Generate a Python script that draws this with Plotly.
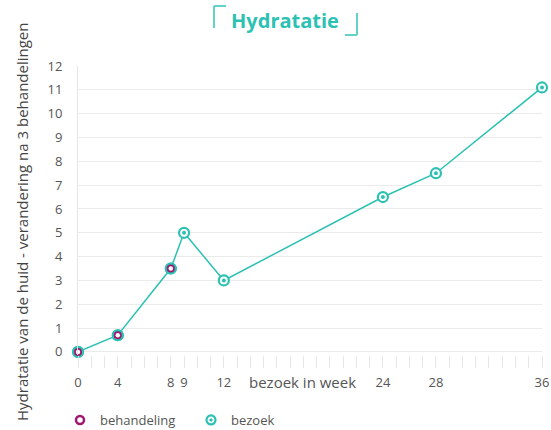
import plotly.graph_objects as go

# ---- data ----
weeks = [0, 4, 8, 9, 12, 24, 28, 36]
values = [0.0, 0.7, 3.5, 5.0, 3.0, 6.5, 7.5, 11.1]
treatment_weeks = [0, 4, 8]
treatment_values = [0.0, 0.7, 3.5]
tick_weeks = [0, 4, 8, 9, 12, 24, 28, 36]
tick_labels = ["0", "4", "8", "9", "12", "24", "28", "36"]
y_ticks = list(range(0, 13))

TEAL = "#2cc1b3"
MAGENTA = "#a3166f"
GRAY = "#555555"
FONT = "Open Sans"


def pos(w):
    # the chart places week 0 at the start of the axis (position 1)
    return max(w, 1)


x_all = [pos(w) for w in weeks]
x_treat = [pos(w) for w in treatment_weeks]

fig = go.Figure()
# connecting line
fig.add_trace(go.Scatter(
    x=x_all, y=values, mode="lines", showlegend=False, hoverinfo="skip",
    line=dict(color=TEAL, width=1.5), cliponaxis=False,
))
# visit markers (ring + centre dot)
fig.add_trace(go.Scatter(
    x=x_all, y=values, mode="markers", name="bezoek", showlegend=False,
    marker=dict(symbol="circle", size=10, color="white",
                line=dict(color=TEAL, width=2.2)),
    cliponaxis=False,
))
fig.add_trace(go.Scatter(
    x=x_all, y=values, mode="markers", showlegend=False, hoverinfo="skip",
    marker=dict(symbol="circle", size=4, color=TEAL, line=dict(width=0)),
    cliponaxis=False,
))
# treatment markers (magenta ring over the visit ring)
fig.add_trace(go.Scatter(
    x=x_treat, y=treatment_values, mode="markers", name="behandeling", showlegend=False,
    marker=dict(symbol="circle", size=10, color=MAGENTA,
                line=dict(color=TEAL, width=2)),
    cliponaxis=False,
))
fig.add_trace(go.Scatter(
    x=x_treat, y=treatment_values, mode="markers", showlegend=False, hoverinfo="skip",
    marker=dict(symbol="circle", size=4.5, color="white", line=dict(width=0)),
    cliponaxis=False,
))
# legend entries (no data drawn)
fig.add_trace(go.Scatter(
    x=[None], y=[None], mode="markers", name="behandeling",
    marker=dict(symbol="circle", size=8, color="white", line=dict(color=MAGENTA, width=2.5)),
    legendrank=1,
))
fig.add_trace(go.Scatter(
    x=[None], y=[None], mode="markers", name="bezoek",
    marker=dict(symbol="circle-dot", size=9, color="white", line=dict(color=TEAL, width=2.2)),
    legendrank=2,
))

W, H = 551, 430
L, R, T, B = 78, 9, 66, 75
pw, ph = W - L - R, H - T - B


def px(xp):
    return (xp - L) / pw


def py(yp):
    return (H - B - yp) / ph


bracket = dict(color="#63d2c7", width=2)
shapes = [
    dict(type="line", xref="paper", yref="paper", x0=px(214), x1=px(214), y0=py(6), y1=py(28), line=bracket),
    dict(type="line", xref="paper", yref="paper", x0=px(214), x1=px(226), y0=py(6), y1=py(6), line=bracket),
    dict(type="line", xref="paper", yref="paper", x0=px(357), x1=px(357), y0=py(13), y1=py(35), line=bracket),
    dict(type="line", xref="paper", yref="paper", x0=px(345), x1=px(357), y0=py(35), y1=py(35), line=bracket),
]

fig.update_layout(
    width=W, height=H,
    margin=dict(l=L, r=R, t=T, b=B, autoexpand=False),
    paper_bgcolor="white", plot_bgcolor="white",
    font=dict(family=FONT, size=13, color=GRAY),
    title=dict(text="<b>Hydratatie</b>", x=285 / W, xref="container", y=1 - 21 / H,
               yref="container", yanchor="middle", xanchor="center",
               font=dict(family=FONT, size=20, color=TEAL)),
    shapes=shapes,
    showlegend=True,
    legend=dict(orientation="h", x=px(60), y=py(420), xanchor="left", yanchor="middle",
                font=dict(family=FONT, size=13, color=GRAY),
                entrywidth=86, entrywidthmode="pixels",
                bgcolor="rgba(0,0,0,0)"),
    annotations=[
        dict(text="bezoek in week", x=17.9, xref="x", y=py(382), yref="paper",
             showarrow=False, xanchor="center", yanchor="middle",
             font=dict(family=FONT, size=15, color=GRAY)),
        dict(text="Hydratatie van de huid - verandering na 3 behandelingen",
             x=px(22), xref="paper", y=py(222), yref="paper", textangle=-90,
             showarrow=False, xanchor="center", yanchor="middle",
             font=dict(family=FONT, size=15, color="#444444")),
    ],
)

fig.update_xaxes(
    range=[1, 36], tickvals=[pos(w) for w in tick_weeks], ticktext=tick_labels,
    showgrid=False, zeroline=False, showline=False, automargin=False,
    ticks="outside", ticklen=12, tickcolor="#e6e6e6", tickwidth=1,
    minor=dict(tick0=1, dtick=1, ticks="outside", ticklen=12, tickcolor="#e6e6e6", showgrid=False),
    ticklabelstandoff=3,
    tickfont=dict(family=FONT, size=13, color=GRAY),
)
fig.update_yaxes(
    range=[-0.13, 12], tickvals=y_ticks, showgrid=True, gridcolor="#ebebeb", gridwidth=1,
    zeroline=False, showline=True, linecolor="#e6e6e6", linewidth=1, automargin=False,
    ticks="", ticklabelstandoff=12, tickfont=dict(family=FONT, size=13, color=GRAY),
)

fig.write_html("out.html", config={"displayModeBar": False},
               post_script="document.body.style.margin='0';")
